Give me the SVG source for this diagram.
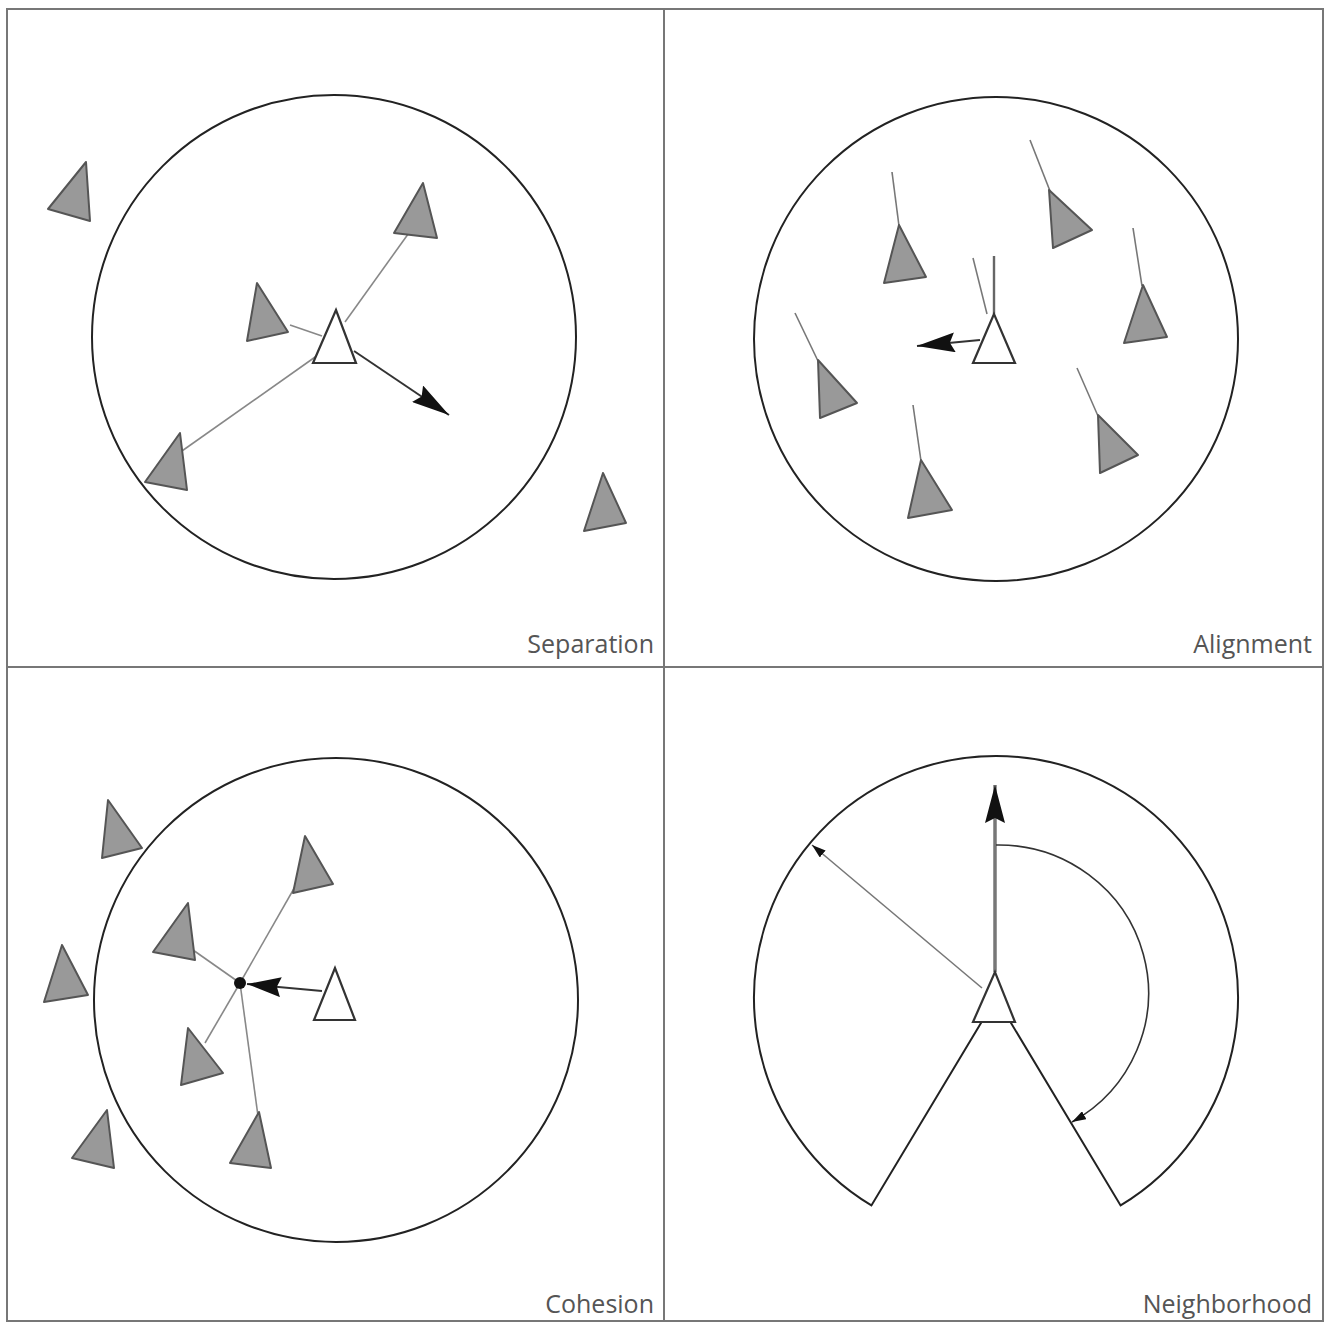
<svg xmlns="http://www.w3.org/2000/svg" width="1325" height="1322" viewBox="0 0 1325 1322">
<style>
.frame{fill:none;stroke:#777;stroke-width:2}
.circ{fill:#fff;stroke:#222;stroke-width:2}
.gray{fill:#999;stroke:#555;stroke-width:2;stroke-linejoin:round}
.white{fill:#fff;stroke:#333;stroke-width:2.2;stroke-linejoin:miter}
.link{stroke:#888;stroke-width:1.6;fill:none}
.tail{stroke:#777;stroke-width:1.6;fill:none}
.arrow{stroke:#333;stroke-width:2;fill:none}
.label{font-family:"Open Sans","Liberation Sans",sans-serif;font-size:25px;fill:#555;text-anchor:end}
</style>
<defs>
<marker id="big" viewBox="0 0 38 20" refX="38" refY="10" markerWidth="38" markerHeight="20" orient="auto" markerUnits="userSpaceOnUse"><path d="M0,0 L38,10 L0,20 L5,10 z" fill="#111"/></marker>
<marker id="mid" viewBox="0 0 34 20" refX="34" refY="10" markerWidth="34" markerHeight="20" orient="auto" markerUnits="userSpaceOnUse"><path d="M0,0 L34,10 L0,20 L4,10 z" fill="#111"/></marker>
<marker id="small" viewBox="0 0 14 9" refX="14" refY="4.5" markerWidth="14" markerHeight="9" orient="auto" markerUnits="userSpaceOnUse"><path d="M0,0 L14,4.5 L0,9 z" fill="#111"/></marker>
</defs>
<rect width="1325" height="1322" fill="#fff"/>
<g id="frame">
<rect class="frame" x="7" y="9" width="1316" height="1312"/>
<line class="frame" x1="664" y1="9" x2="664" y2="1321"/>
<line class="frame" x1="7" y1="667" x2="1323" y2="667"/>
</g>

<!-- Separation -->
<g id="sep-circle"><circle class="circ" cx="334" cy="337" r="242"/></g>
<g id="connectors-sep">
<line class="link" x1="290" y1="325" x2="322" y2="336"/>
<line class="link" x1="345" y1="322" x2="411" y2="230"/>
<line class="link" x1="318" y1="355" x2="172" y2="458"/>
<line class="arrow" x1="354" y1="351" x2="449" y2="415" marker-end="url(#big)"/>
</g>
<g id="sep-boid-1"><polygon class="gray" points="257,283 247,341 288,332"/></g>
<g id="sep-boid-2"><polygon class="gray" points="423,183 394,233 437,238"/></g>
<g id="sep-boid-3"><polygon class="gray" points="180,433 145,482 187,490"/></g>
<g id="sep-boid-4"><polygon class="gray" points="86,162 48,209 90,221"/></g>
<g id="sep-boid-5"><polygon class="gray" points="603,473 584,531 626,523"/></g>
<g id="sep-self"><polygon class="white" points="336,310 313,363 356,363"/></g>
<g id="sep-label"><text class="label" x="654" y="653">Separation</text></g>

<!-- Alignment -->
<g id="ali-circle"><circle class="circ" cx="996" cy="339" r="242"/></g>
<g id="connectors-ali">
<line class="tail" x1="892" y1="172" x2="899" y2="226"/>
<line class="tail" x1="1030" y1="140" x2="1050" y2="191"/>
<line class="tail" x1="1133" y1="228" x2="1142" y2="286"/>
<line class="tail" x1="795" y1="313" x2="818" y2="361"/>
<line class="tail" x1="1077" y1="368" x2="1098" y2="416"/>
<line class="tail" x1="913" y1="405" x2="921" y2="461"/>
<line class="tail" x1="973" y1="258" x2="987" y2="314"/>
<line stroke="#666" stroke-width="2.4" x1="994" y1="256" x2="994" y2="314"/>
<line class="arrow" x1="980" y1="340" x2="917" y2="346" marker-end="url(#big)"/>
</g>
<g id="ali-boid-1"><polygon class="gray" points="899,225 884,283 926,277"/></g>
<g id="ali-boid-2"><polygon class="gray" points="1049,190 1092,230 1053,248"/></g>
<g id="ali-boid-3"><polygon class="gray" points="1143,285 1124,343 1167,337"/></g>
<g id="ali-boid-4"><polygon class="gray" points="818,360 820,418 857,403"/></g>
<g id="ali-boid-5"><polygon class="gray" points="1098,415 1138,455 1100,473"/></g>
<g id="ali-boid-6"><polygon class="gray" points="921,460 908,518 952,510"/></g>
<g id="ali-self"><polygon class="white" points="994,314 973,363 1015,363"/></g>
<g id="ali-label"><text class="label" x="1312" y="653">Alignment</text></g>

<!-- Cohesion -->
<g id="coh-circle"><circle class="circ" cx="336" cy="1000" r="242"/></g>
<g id="connectors-coh">
<line class="link" x1="240" y1="983" x2="300" y2="878"/>
<line class="link" x1="240" y1="983" x2="193" y2="950"/>
<line class="link" x1="240" y1="983" x2="205" y2="1043"/>
<line class="link" x1="240" y1="983" x2="258" y2="1116"/>
<line class="arrow" x1="322" y1="991" x2="247" y2="984" marker-end="url(#mid)"/>
</g>
<g id="coh-center"><circle cx="240" cy="983" r="6" fill="#111"/></g>
<g id="coh-boid-1"><polygon class="gray" points="305,836 293,893 333,884"/></g>
<g id="coh-boid-2"><polygon class="gray" points="188,903 153,952 195,960"/></g>
<g id="coh-boid-3"><polygon class="gray" points="188,1028 181,1085 223,1073"/></g>
<g id="coh-boid-4"><polygon class="gray" points="259,1112 230,1163 271,1168"/></g>
<g id="coh-boid-5"><polygon class="gray" points="108,800 102,858 142,848"/></g>
<g id="coh-boid-6"><polygon class="gray" points="62,945 44,1002 88,995"/></g>
<g id="coh-boid-7"><polygon class="gray" points="107,1110 72,1158 114,1168"/></g>
<g id="coh-self"><polygon class="white" points="335,968 314,1020 355,1020"/></g>
<g id="coh-label"><text class="label" x="654" y="1313">Cohesion</text></g>

<!-- Neighborhood -->
<g id="nbh-region"><path class="circ" d="M996,998 L871.4,1205.4 A242,242 0 1 1 1120.6,1205.4 Z"/></g>
<g id="connectors-nbh">
<line x1="995" y1="972" x2="995" y2="785" stroke="#777" stroke-width="3.5" marker-end="url(#big)"/>
<line class="tail" x1="982" y1="988" x2="812" y2="845" stroke="#555" marker-end="url(#small)"/>
<path d="M996,845 A150,148 0 0 1 1072,1122" fill="none" stroke="#333" stroke-width="1.6" marker-end="url(#small)"/>
</g>
<g id="nbh-self"><polygon class="white" points="995,972 973,1022 1015,1022"/></g>
<g id="nbh-label"><text class="label" x="1312" y="1313">Neighborhood</text></g>
</svg>
